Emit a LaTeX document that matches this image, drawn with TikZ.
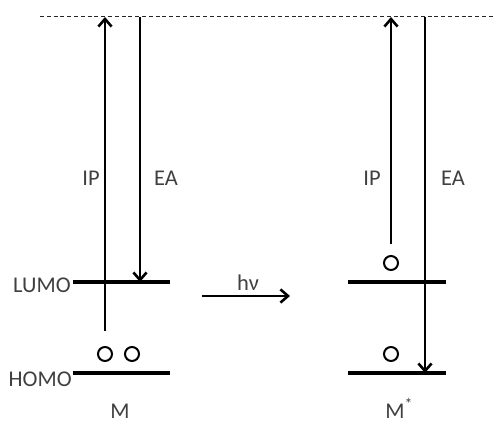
\documentclass[tikz,border=0pt]{standalone}
\usepackage{fontspec}
\setmainfont{Carlito}
\usetikzlibrary{arrows.meta}

\begin{document}
\begin{tikzpicture}[x=0.25mm, y=-0.25mm,
    level/.style={line width=1.15mm},
    trans/.style={line width=0.65mm, -{Straight Barb[length=1.9mm,width=3.3mm]}},
    hole/.style={circle, draw, line width=0.5mm, minimum size=3.5mm, inner sep=0pt},
    lbl/.style={font=\fontsize{16}{18}\selectfont, text=black!75, inner sep=0pt}]
    \useasboundingbox (0,0) rectangle (493,428);

    % vacuum level
    \coordinate (vacL) at (40,17);
    \coordinate (vacR) at (493,17);
    \draw[dashed, dash pattern=on 1mm off 0.7mm, line width=0.25mm, black!85] (vacL) -- (vacR);

    % ground state M
    \coordinate (lumoA) at (73,282);  \coordinate (lumoB) at (170,282);
    \coordinate (homoA) at (73,373);  \coordinate (homoB) at (170,373);
    \draw[level] (lumoA) -- (lumoB);
    \draw[level] (homoA) -- (homoB);
    \node[hole] (h1) at (105,354) {};
    \node[hole] (h2) at (132,354) {};
    \coordinate (ipS) at (105,331);  \coordinate (ipE) at (105,17);
    \coordinate (eaS) at (140,17);   \coordinate (eaE) at (140,282);
    \draw[trans] (ipS) -- (ipE);
    \draw[trans] (eaS) -- (eaE);
    \node[lbl, anchor=east] (lumo) at (71,285) {LUMO};
    \node[lbl, anchor=east] (homo) at (72,379) {HOMO};
    \node[lbl] (ip) at (91,178) {IP};
    \node[lbl] (ea) at (166,178) {EA};
    \node[lbl, anchor=base west] (mol) at (110,418) {M};

    % excitation
    \coordinate (hvS) at (202,296);  \coordinate (hvE) at (290,296);
    \draw[trans] (hvS) -- (hvE);
    \node[lbl] (hv) at (248,283) {hν};

    % excited state M*
    \coordinate (lumoC) at (348,282);  \coordinate (lumoD) at (446,282);
    \coordinate (homoC) at (348,373);  \coordinate (homoD) at (446,373);
    \draw[level] (lumoC) -- (lumoD);
    \draw[level] (homoC) -- (homoD);
    \node[hole] (h3) at (391,263) {};
    \node[hole] (h4) at (391,354) {};
    \coordinate (ipS2) at (391,244);  \coordinate (ipE2) at (391,17);
    \coordinate (eaS2) at (425,17);   \coordinate (eaE2) at (425,373);
    \draw[trans] (ipS2) -- (ipE2);
    \draw[trans] (eaS2) -- (eaE2);
    \node[lbl] (ip2) at (372,178) {IP};
    \node[lbl] (ea2) at (453,178) {EA};
    \node[lbl, anchor=base west] (molx) at (385,418) {M\textsuperscript{*}};
\end{tikzpicture}
\end{document}
